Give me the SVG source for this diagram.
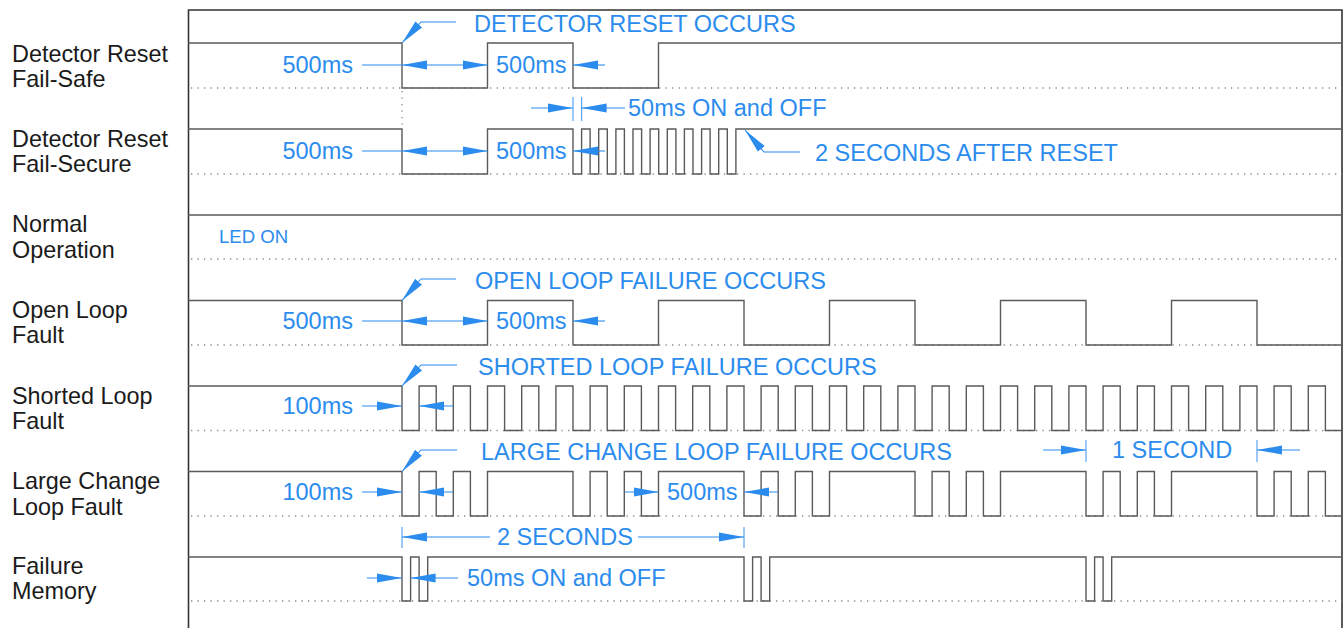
<svg xmlns="http://www.w3.org/2000/svg" width="1343" height="628" viewBox="0 0 1343 628">
<defs>
<style>
.lbl{font-family:"Liberation Sans",Arial,sans-serif;font-size:23.4px;fill:#1a1a1a}
.ann{font-family:"Liberation Sans",Arial,sans-serif;font-size:23.5px;fill:#2b8cee}
.small{font-size:18.6px}
.sig{fill:none;stroke:#5a5a5a;stroke-width:1.4}
.base{fill:none;stroke:#8a8a8a;stroke-width:1.3;stroke-dasharray:1.3 5.2}
.frame{fill:none;stroke:#333;stroke-width:1.6}
.dim{fill:none;stroke:#2b8cee;stroke-width:1.1}
.tick{fill:none;stroke:#5aa6f2;stroke-width:1.2}
</style>
<marker id="ah" markerUnits="userSpaceOnUse" markerWidth="27" markerHeight="10" refX="25" refY="4.5" orient="auto-start-reverse" viewBox="0 0 27 9">
<path d="M0,0 L25,4.5 L0,9 Z" fill="#2b8cee"/>
</marker>
</defs>
<rect width="1343" height="628" fill="#fff"/>

<g id="frame">
<path class="frame" d="M188.5,628 V10 H1342 V628"/>
</g>

<g id="row-failsafe">
<text class="lbl" x="12" y="62">Detector Reset</text>
<text class="lbl" x="12" y="87">Fail-Safe</text>
<path class="base" d="M191,88 H1342"/>
<path class="base" d="M402,91 V126"/>
<path class="sig" d="M188,43 H402 V88 H487.5 V43 H573 V88 H658.5 V43 H1342"/>
</g>

<g id="row-failsecure">
<text class="lbl" x="12" y="147">Detector Reset</text>
<text class="lbl" x="12" y="172">Fail-Secure</text>
<path class="base" d="M191,174 H1342"/>
<path class="sig" d="M188,129 H402 V174 H487.5 V129 H573 V174 H581.6 V129 H590.1 V174 H598.7 V129 H607.3 V174 H615.9 V129 H624.4 V174 H633 V129 H641.6 V174 H650.1 V129 H658.7 V174 H667.3 V129 H675.9 V174 H684.4 V129 H693 V174 H701.6 V129 H710.1 V174 H718.7 V129 H727.3 V174 H735.9 V129 H1342"/>
</g>

<g id="row-normal">
<text class="lbl" x="12" y="232">Normal</text>
<text class="lbl" x="12" y="258">Operation</text>
<path class="base" d="M191,259 H1342"/>
<path class="sig" d="M188,215 H1342"/>
<text class="ann small" x="219" y="243">LED ON</text>
</g>

<g id="row-openloop">
<text class="lbl" x="12" y="318">Open Loop</text>
<text class="lbl" x="12" y="343">Fault</text>
<path class="base" d="M191,345 H1342"/>
<path class="sig" d="M188,300.5 H402 V345 H487.5 V300.5 H573 V345 H658.5 V300.5 H744 V345 H829.5 V300.5 H915 V345 H1000.5 V300.5 H1086 V345 H1171.5 V300.5 H1257 V345 H1342"/>
</g>

<g id="row-shorted">
<text class="lbl" x="12" y="404">Shorted Loop</text>
<text class="lbl" x="12" y="429">Fault</text>
<path class="base" d="M191,430.5 H1342"/>
<path class="sig" d="M188,386 H402 V430.5 H419.1 V386 H436.2 V430.5 H453.3 V386 H470.4 V430.5 H487.5 V386 H504.6 V430.5 H521.7 V386 H538.8 V430.5 H555.9 V386 H573 V430.5 H590.1 V386 H607.2 V430.5 H624.3 V386 H641.4 V430.5 H658.5 V386 H675.6 V430.5 H692.7 V386 H709.8 V430.5 H726.9 V386 H744 V430.5 H761.1 V386 H778.2 V430.5 H795.3 V386 H812.4 V430.5 H829.5 V386 H846.6 V430.5 H863.7 V386 H880.8 V430.5 H897.9 V386 H915 V430.5 H932.1 V386 H949.2 V430.5 H966.3 V386 H983.4 V430.5 H1000.5 V386 H1017.6 V430.5 H1034.7 V386 H1051.8 V430.5 H1068.9 V386 H1086 V430.5 H1103.1 V386 H1120.2 V430.5 H1137.3 V386 H1154.4 V430.5 H1171.5 V386 H1188.6 V430.5 H1205.7 V386 H1222.8 V430.5 H1239.9 V386 H1257 V430.5 H1274.1 V386 H1291.2 V430.5 H1308.3 V386 H1325.4 V430.5 H1342"/>
</g>

<g id="row-largechange">
<text class="lbl" x="12" y="489">Large Change</text>
<text class="lbl" x="12" y="515">Loop Fault</text>
<path class="base" d="M191,516 H1342"/>
<path class="sig" d="M188,471.5 H402 V516 H419.1 V471.5 H436.2 V516 H453.3 V471.5 H470.4 V516 H487.5 V471.5 H573 V516 H590.1 V471.5 H607.2 V516 H624.3 V471.5 H641.4 V516 H658.5 V471.5 H744 V516 H761.1 V471.5 H778.2 V516 H795.3 V471.5 H812.4 V516 H829.5 V471.5 H915 V516 H932.1 V471.5 H949.2 V516 H966.3 V471.5 H983.4 V516 H1000.5 V471.5 H1086 V516 H1103.1 V471.5 H1120.2 V516 H1137.3 V471.5 H1154.4 V516 H1171.5 V471.5 H1257 V516 H1274.1 V471.5 H1291.2 V516 H1308.3 V471.5 H1325.4 V516 H1342"/>
</g>

<g id="row-memory">
<text class="lbl" x="12" y="574">Failure</text>
<text class="lbl" x="12" y="599">Memory</text>
<path class="base" d="M191,601 H1342"/>
<path class="sig" d="M188,557 H402 V601 H410.6 V557 H419.1 V601 H427.7 V557 H744 V601 H752.6 V557 H761.1 V601 H769.7 V557 H1086 V601 H1094.6 V557 H1103.1 V601 H1111.7 V557 H1342"/>
</g>

<g id="annotations">
<path class="dim" d="M456,22 H421 L402,43" marker-end="url(#ah)"/>
<text class="ann" x="474" y="32">DETECTOR RESET OCCURS</text>
<path class="dim" d="M456,279 H421 L402,300.5" marker-end="url(#ah)"/>
<text class="ann" x="475" y="289">OPEN LOOP FAILURE OCCURS</text>
<path class="dim" d="M457,365 H421 L402,386" marker-end="url(#ah)"/>
<text class="ann" x="478" y="375">SHORTED LOOP FAILURE OCCURS</text>
<path class="dim" d="M457,450 H421 L402,471.5" marker-end="url(#ah)"/>
<text class="ann" x="481" y="460">LARGE CHANGE LOOP FAILURE OCCURS</text>
<path class="dim" d="M800,152 H764 L745,130" marker-end="url(#ah)"/>
<text class="ann" x="815" y="161">2 SECONDS AFTER RESET</text>

<text class="ann" x="353" y="73" text-anchor="end">500ms</text>
<path class="dim" d="M362,65 H402"/>
<path class="dim" d="M402,65 H487.5" marker-start="url(#ah)" marker-end="url(#ah)"/>
<text class="ann" x="496" y="73">500ms</text>
<path class="dim" d="M605,65 H573" marker-end="url(#ah)"/>

<path class="dim" d="M531,108 H573" marker-end="url(#ah)"/>
<path class="tick" d="M573,97 V121 M581.6,97 V121"/>
<path class="dim" d="M625,108 H581.6" marker-end="url(#ah)"/>
<text class="ann" x="628" y="116">50ms ON and OFF</text>
<text class="ann" x="353" y="159" text-anchor="end">500ms</text>
<path class="dim" d="M362,151 H402"/>
<path class="dim" d="M402,151 H487.5" marker-start="url(#ah)" marker-end="url(#ah)"/>
<text class="ann" x="496" y="159">500ms</text>
<path class="dim" d="M605,151 H573" marker-end="url(#ah)"/>

<text class="ann" x="353" y="329" text-anchor="end">500ms</text>
<path class="dim" d="M362,321 H402"/>
<path class="dim" d="M402,321 H487.5" marker-start="url(#ah)" marker-end="url(#ah)"/>
<text class="ann" x="496" y="329">500ms</text>
<path class="dim" d="M605,321 H573" marker-end="url(#ah)"/>

<text class="ann" x="353" y="414" text-anchor="end">100ms</text>
<path class="dim" d="M362,406 H402" marker-end="url(#ah)"/>
<path class="dim" d="M453,406 H419.1" marker-end="url(#ah)"/>

<text class="ann" x="353" y="500" text-anchor="end">100ms</text>
<path class="dim" d="M362,492 H402" marker-end="url(#ah)"/>
<path class="dim" d="M453,492 H419.1" marker-end="url(#ah)"/>
<path class="dim" d="M625,492 H658.5" marker-end="url(#ah)"/>
<text class="ann" x="667" y="500">500ms</text>
<path class="dim" d="M778,492 H744" marker-end="url(#ah)"/>

<path class="dim" d="M1043,450 H1086" marker-end="url(#ah)"/>
<path class="tick" d="M1086,440 V462 M1257,440 V462"/>
<text class="ann" x="1112" y="458">1 SECOND</text>
<path class="dim" d="M1300,450 H1257" marker-end="url(#ah)"/>

<path class="tick" d="M402,527 V548 M744,527 V548"/>
<path class="dim" d="M490,537 H402" marker-end="url(#ah)"/>
<text class="ann" x="497" y="545">2 SECONDS</text>
<path class="dim" d="M638,537 H744" marker-end="url(#ah)"/>

<path class="dim" d="M367,578 H402" marker-end="url(#ah)"/>
<path class="dim" d="M458,578 H410.6" marker-end="url(#ah)"/>
<text class="ann" x="467" y="586">50ms ON and OFF</text>
</g>
</svg>
